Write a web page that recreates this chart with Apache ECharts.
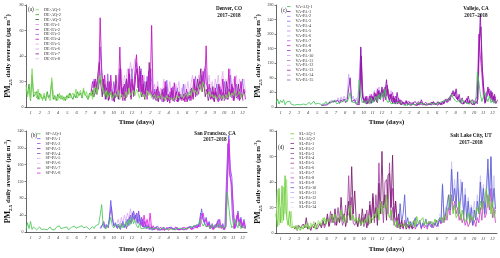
<!DOCTYPE html>
<html><head><meta charset="utf-8">
<script src="https://cdn.jsdelivr.net/npm/echarts@6/dist/echarts.min.js"></script>
<style>html,body{margin:0;padding:0;background:#fff}#c{width:500px;height:258px}</style>
</head><body><div id="c"></div><script>
const STEP = 5; // days between samples
const monthLabels = ['1','2','3','4','5','6','7','8','9','10','11','12','1','2','3','4','5','6','7','8','9','10','11','12'];
const yTicksA = {max: 80, interval: 20};
const yTicksC = {max: 280, interval: 40};
const yTicksB = {max: 240, interval: 40};
const yTicksD = {max: 80, interval: 20};

// ---- Panel (a) Denver ----
const namesA = ['DE-AQ-1','DE-AQ-2','DE-AQ-3','DE-PA-1','DE-PA-2','DE-PA-3','DE-PA-4','DE-PA-5','DE-PA-6','DE-PA-7','DE-PA-8'];
const aqA1 = [17,8,14,6,30,10, 12,7,14,6,10,5, 11,6,9,7,5,23, 10,6,8,5,11,6, 9,5,8,6,10,7, 6,11,8,14,7,10, 13,8,15,9,12,6, 8,12,6,14,16,10, 22,25,18,12,9,13, 7,10,12,6,9,11, 8,13,6,10,9,7, 12,8,15,9,10,13, 9,14,11,7,12,8, 10,6,13,9,11,7, 8,10,6,9,7,10, 6,8,5,9,7,6, 7,5,8,6,9,7, 8,10,7,9,11,8, 12,9,15,11,13,10, 14,18,12,20,16,11, 9,12,8,10,7,9, 6,8,10,7,9,6, 10,7,12,8,11,9, 13,8,10,12,7,11,9,10];
const aqA2 = [14,10,18,5,25,8,10,12,6,11,8,6,9,5,12,7,10,20,6,9,5,10,7,9,6,8,5,9,7,11,8,6,10,7,12,9,11,7,13,10,8,6,11,9,13,8,15,12,18,22,20,14,10,8,12,9,11,7,10,8];
const paA4 = [12,20,15,22,10,18, 70,30,15,25,8,20, 6,25,10,5,18,8, 12,47,10,5,18,7, 14,30,8,22,12,28, 41,15,32,10,25,8, 15,6,28,10,64,8, 12,5,16,8,6,14, 4,20,6,10,3,15, 5,19,6,4,12,7, 5,10,4,14,6,9, 5,12,22,8,15,10, 20,12,28,15,48,10, 18,6,12,5,15,8, 4,16,7,22,5,12, 6,30,8,18,5,24, 7,12,5,20,8,14,6];
const paA3 = [15,22,12,20,14,47,25,10,18,6,26,9,14,5,20,7,12,6,30,8,15,6,20,9,25,12,30,8,20,35,22,12,30,9,20,8,24,12,30,20,6,14,8,5,12,9,4,15,7,21,5,12,6,16,4,9,15,5,10,7,18,6,9,12,5,14,8,16,24,9,18,14,25,16,30,20,14,9,15,6,12,8,18,10,5,14,9,20,6,16,12,25,7,15,9,18,6,14,8,22,10,12];
const paA7 = [14,8,20,10,25,35,18,8,22,6,15,5,20,8,12,4,25,10,6,30,8,16,5,22,10,26,6,18,9,24,30,12,28,8,18,6,20,10,35,14,8,10,6,14,4,10,7,12,5,16,4,9,6,13,5,8,12,4,10,6,8,5,11,4,9,7,15,6,18,10,22,14,30,12,20,8,14,5,10,7,16,4,12,6,18,8,5,12,7,20,6,14,10,16,5,12,8,18,6,10,5];
const paA8 = [15,25,20,30,12,25,18,30,22,35,28,30,38,30,25,20,30,15,25,12,20,10,18,30,12,18,10,20,8,15,10,22,8,18,12,20,10,15,8,18,12,20,8,15,10,18,12,20,10,18,25,15,20,12,25,18,30,22,32,25,18,25,12,20,10,22,15,25,10,20,28,12,22,15,25,30,15,22,18,25,12,22,15,20,22,12];
const colorsA = ['#7ed957','#33a02c','#1b5e20','#e08ee0','#b04ad0','#9a5cf0','#c010c0','#f0a0e8','#c8a0f8','#8e1a8e','#e6b0f0'];
const seriesA = [
  {name:'DE-PA-8', start:300, vals:paA8},
  {name:'DE-PA-3', start:220, vals:paA3},
  {name:'DE-PA-7', start:217, vals:paA7},
  {name:'DE-PA-4', start:215, vals:paA4},
  {name:'DE-AQ-2', start:0, vals:aqA2},
  {name:'DE-AQ-1', start:0, vals:aqA1}
];

// ---- Panel (c) Vallejo ----
const namesC = ['VA-AQ-1','VA-PA-1','VA-PA-2','VA-PA-3','VA-PA-4','VA-PA-5','VA-PA-6','VA-PA-7','VA-PA-8','VA-PA-9','VA-PA-10','VA-PA-11','VA-PA-12','VA-PA-13','VA-PA-14','VA-PA-15'];
const aqC1 = [10,22,8,18,12,20, 6,14,9,16,8,12, 5,10,7,12,6,9, 8,11,6,9,13,7, 9,16,8,12,10,14, 7,12,9,15,8,11, 10,16,12,18,9,14, 12,8,15,10,20,14, 25,40,14,10,12,8, 10,75,30,12,18,9, 14,20,8,25,12,18, 30,15,35,20,40,25, 50,20,12,18,9,14, 10,7,12,8,14,9, 6,9,5,8,7,10, 8,12,6,9,11,7, 9,13,8,11,7,10, 10,14,8,12,9,11, 12,9,15,10,18,14, 20,28,35,25,30,15, 12,18,10,22,14,9, 11,16,8,20,12,15, 10,95,70,35,15,20, 40,25,15,30,12,20,10,18];
const paC1 = [4,8,5,10,6,12,8,14,9,15,11,18,10,20,14,22,12,18,50,80,15,10,20,8,12,6,165,40,12,25,8,18,30,10,28,15,35,12,45,20,55,25,40,75,30,15,35,10,25,8,40,12,20,6,14,8,18,5,12,7,10,5,15,8,12,6,20,9,14,5,10,7,12,6,15,8,11,5,13,7,16,9,20,12,25,18,35,45,30,50,20,35,12,25,8,18,10,30,12,8,20,6,15,9,150,255,120,60,10,25,55,30,45,15,30,10];
const paC8 = [8,20,120,30,20,12,30,10,22,35,15,40,20,50,25,35,45,15,55,30,50,20,25,40,12,30,10,25,8,18,10,5,12,8,15,5,10,8,12,5,15,9,11,6,10,13,6,11,8,14,7,12,9,15,8,12,10,18,14,22,15,30,25,40,35,25,30,15,20,10,15,12,25,8,18,12,6,14,9,30,200,140,90,30,15,40,35,50,20,40,12,28];
const paC13 = [10,30,140,25,15,28,10,20,12,30,18,38,14,45,22,40,30,50,20,60,25,35,15,30,10,22,8,15,6,12,9,5,14,7,10,5,12,6,9,4,11,8,12,6,10,7,7,10,5,12,8,9,6,13,7,11,8,16,12,20,18,28,38,30,42,22,28,14,18,8,14,10,22,9,15,7,12,9,6,20,180,220,100,40,12,30,45,25,40,18,35,10,20];
const paC6 = [6,10,7,12,9,15,10,18,12,20,14,25,15,28,18,30,20,28,90,60,20,30,12,25,10,15,160,50,20,30,15,25,35,20,30,45,25,40,55,30,50,35,45,60,40,30,45,20,30,15,25];
const colorsC = ['#3fc85a','#8a10b0','#b070f0','#8a6ae8','#a0a0f0','#c080f0','#cfa8fa','#b060e0','#c42ac4','#9932cc','#c89cf0','#cc66cc','#e0a0f0','#a020a0','#d070d0','#9050c0'];
const seriesC = [
  {name:'VA-PA-6', start:150, vals:paC6},
  {name:'VA-PA-8', start:270, vals:paC8},
  {name:'VA-PA-13', start:272, vals:paC13},
  {name:'VA-PA-1', start:150, vals:paC1},
  {name:'VA-AQ-1', start:0, vals:aqC1}
];

// ---- Panel (b) San Francisco ----
const namesB = ['SF-AQ-1','SF-PA-1','SF-PA-2','SF-PA-3','SF-PA-4','SF-PA-5','SF-PA-6','SF-PA-7','SF-PA-8'];
const aqB1 = [5,22,8,25,6,12, 10,5,8,12,6,9, 7,10,5,8,12,6, 9,5,11,7,15,8, 6,10,8,12,5,9, 11,7,14,9,6,12, 8,15,10,7,12,9, 6,10,13,8,15,11, 18,40,65,12,10,8, 12,20,35,15,10,15, 12,18,8,20,10,15, 25,12,30,18,35,20, 28,15,10,20,8,12, 9,6,11,8,12,7, 6,9,5,8,10,7, 8,11,6,9,7,10, 7,10,6,9,8,11, 9,12,7,10,8,11, 10,8,13,9,15,11, 18,30,22,14,20,12, 10,15,8,18,12,9, 12,20,9,15,10,14, 12,95,60,25,10,15, 30,18,10,25,8,14,9,12];
const paB1 = [10,15,20,10,18,12,30,75,35,15,22,10,18,8,12,25,10,20,30,15,40,25,50,30,45,20,40,15,30,10,20,8,15,6,12,5,10,7,14,5,9,6,12,5,8,10,6,12,7,9,5,11,6,10,8,12,6,9,11,7,13,8,15,10,18,12,25,55,30,20,35,15,25,10,20,8,18,12,30,15,10,20,8,15,140,230,150,130,40,10,15,50,20,35,12,30,10];
const paB4 = [8,12,25,8,15,10,40,60,25,12,18,8,15,6,20,12,18,8,25,35,20,45,28,40,22,50,18,35,12,25,8,15,6,12,4,9,6,11,5,8,5,10,4,7,9,5,10,6,8,4,10,5,9,7,11,5,8,10,6,12,7,13,9,16,10,20,45,38,25,28,12,22,8,16,6,15,10,25,12,8,16,6,12,120,210,140,120,35,8,12,40,25,30,10,22,8];
const paB8 = [25,12,40,15,30,10,45,8,15,5,10,4,8,12,5,9,6,11,4,8,10,5,9,12,6,8,5,10,7,11,5,9,12,6,10,8,14,9,18,12,35,45,25,30,12,20,8,15,6,12,20,10,30,8,15,5,12,100,220,130,110,55,8,12,45,15,30,10,25,8];
const paB5 = [20,30,15,35,20,40,25,45,30,55,35,50,40,35,45,25,30,20,25,12,18,10,20,8,12];
const colorsB = ['#4cc85a','#6a5af0','#9a4cf0','#7a30c0','#9040d0','#dcaaf8','#f0c0f0','#b040c0','#ea1cea'];
const seriesB = [
  {name:'SF-PA-5', start:300, vals:paB5},
  {name:'SF-PA-4', start:247, vals:paB4},
  {name:'SF-PA-1', start:245, vals:paB1},
  {name:'SF-PA-8', start:380, vals:paB8},
  {name:'SF-AQ-1', start:0, vals:aqB1}
];

// ---- Panel (d) Salt Lake City ----
const namesD = ['SL-AQ-1','SL-AQ-2','SL-PA-1','SL-PA-2','SL-PA-3','SL-PA-4','SL-PA-5','SL-PA-6','SL-PA-7','SL-PA-8','SL-PA-9','SL-PA-10','SL-PA-11','SL-PA-12','SL-PA-13','SL-PA-14'];
const aqD1 = [15,5,35,8,37,10, 45,12,6,17,4,3, 5,3,6,4,2,5, 3,6,4,8,3,5, 4,7,3,6,5,8, 6,10,12,7,11,9, 10,14,8,15,11,9, 12,18,9,14,8,12, 15,22,10,14,9,12, 8,12,6,10,7,11, 9,14,7,12,10,15, 12,20,10,25,15,22, 20,30,15,12,18,10, 8,5,10,4,7,6, 5,8,4,6,9,5, 6,10,5,13,7,9, 8,12,6,10,7,9, 7,9,6,11,8,10, 9,12,8,14,10,18, 20,30,25,15,22,12, 14,25,10,18,12,9, 11,16,8,14,10,13, 12,20,15,25,18,22, 28,35,20,30,15,25,12,18];
const aqD2 = [12,34,6,20,8,36,15,42,10,5,17,4,3,6,2,5,4,3,5,7,4,6,3,8,5,9,6,4,10,7,8,12,9,11];
const paD2 = [3,5,2,6,4,3,7,4,12,3,5,2,6,4,8,3,5,7,4,10,6,8,15,5,10,15,8,19,6,12,8,28,10,15,5,12,25,10,52,15,33,10,5,12,6,19,8,15,4,10,22,8,31,12,20,6,39,15,64,20,30,10,45,47,20,61,12,25,8,15,5,10,4,8,3,6,4,7,3,5];
const paD4 = [5,9,4,7,12,6,17,8,12,6,10,20,9,13,6,10,22,8,45,12,28,8,6,10,5,15,6,12,5,8,18,6,25,10,28,8,30,12,55,18,25,8,40,42,15,55,10,20,6,12,4,8,3,6,4];
const paD10 = [10,5,23,8,15,30,6,12,5,9,4,8,12,5,7,10,4,8,6,11,5,7,9,4,8,6,10,5,12,8,38,10,15,22,30,18,50,25,35,20,48,15,28,40,12,30,10,25,8,20,6,18,10,25,15,40,20,35,15,30,58,25,60,20,35,19];
const paD12 = [15,10,39,12,20,15,28,20,56,30,42,25,35,20,42,25,18,35,12,28,10,22,15,25,12,30,18,45,25,38,20,40,50,30,59,25,45,15];
const paD8 = [20,35,10,25,5,12,4,8,3,10,5,7,3,6,4,9,3,6,5,8,3,7,4,6,3,9,5,7,4,8,5,6,10,7,12,8,15,10,20,14,30,18,25,15,20,10,15,8,12,6,10,5,8,12,6,10,5,12,8,20,10,25,12,15,30,18,35,12,20,8];
const colorsD = ['#66cc33','#a6e07e','#8a2a8a','#7a1a6e','#a04ca0','#a848a8','#9a3a9a','#d080d0','#e0a0e0','#cc44cc','#8a6ae0','#5c5cd6','#b0b0f0','#c8c4f8','#e0c0f8','#ece0ff'];
const seriesD = [
  {name:'SL-PA-12', start:540, vals:paD12},
  {name:'SL-PA-8', start:380, vals:paD8},
  {name:'SL-PA-10', start:400, vals:paD10},
  {name:'SL-PA-4', start:150, vals:paD4},
  {name:'SL-PA-2', start:60, vals:paD2},
  {name:'SL-AQ-2', start:0, vals:aqD2},
  {name:'SL-AQ-1', start:0, vals:aqD1}
];

const SERIF = 'Liberation Serif, Times New Roman, serif';
const panels = [
  {grid:{left:26,top:5,width:221,height:102}, y:yTicksA, names:namesA, colors:colorsA, series:seriesA,
   place:'Denver, CO', placeX:229, placeY:5.5, tag:'(a)', tagX:28, tagY:7.5, legLeft:35.5, legTop:7.8, xGap:11.5},
  {grid:{left:276,top:5,width:221,height:102}, y:yTicksC, names:namesC, colors:colorsC, series:seriesC,
   place:'Vallejo, CA', placeX:476, placeY:5.5, tag:'(c)', tagX:281, tagY:8, legLeft:287, legTop:4.5, xGap:11.5},
  {grid:{left:26,top:131,width:221,height:101}, y:yTicksB, names:namesB, colors:colorsB, series:seriesB,
   place:'San Francisco, CA', placeX:215, placeY:130, tag:'(b)', tagX:31, tagY:133, legLeft:37, legTop:131.8, xGap:13.5},
  {grid:{left:276,top:131,width:221,height:102}, y:yTicksD, names:namesD, colors:colorsD, series:seriesD,
   place:'Salt Lake City, UT', placeX:471, placeY:132.5, tag:'(d)', tagX:278, tagY:145, legLeft:290.5, legTop:131.8, xGap:13}
];

const opt = {animation:false, backgroundColor:'#fff', textStyle:{fontFamily:SERIF},
  grid:[], xAxis:[], yAxis:[], series:[], legend:[], title:[]};

panels.forEach((p, pi) => {
  opt.grid.push(p.grid);
  opt.xAxis.push({type:'value', gridIndex:pi, min:0, max:730, show:false});
  opt.xAxis.push({type:'category', gridIndex:pi, data:monthLabels, boundaryGap:true, position:'bottom',
    axisLine:{lineStyle:{color:'#000', width:0.6}}, axisTick:{show:false},
    axisLabel:{fontSize:4.6, fontStyle:'italic', color:'#444', margin:3, fontFamily:SERIF, interval:0},
    name:'Time (days)', nameLocation:'middle', nameGap:p.xGap,
    nameTextStyle:{fontSize:7, fontWeight:'bold', color:'#111', fontFamily:SERIF}});
  opt.yAxis.push({type:'value', gridIndex:pi, min:0, max:p.y.max, interval:p.y.interval,
    axisLine:{show:true, lineStyle:{color:'#000', width:0.6}},
    axisTick:{show:true, length:1.5, lineStyle:{width:0.5}},
    splitLine:{show:false},
    axisLabel:{fontSize:4, color:'#333', margin:2.5, fontFamily:SERIF},
    name:'{b|PM}{s|2.5}{m| daily average (μg m}{p|-3}{m|)}', nameLocation:'middle', nameRotate:90, nameGap:13,
    nameTextStyle:{color:'#111', fontFamily:SERIF, rich:{
      b:{fontSize:8, fontWeight:'bold', fontFamily:SERIF, color:'#111', lineHeight:10},
      s:{fontSize:5, fontWeight:'bold', fontFamily:SERIF, color:'#111', verticalAlign:'bottom', lineHeight:10},
      m:{fontSize:6.8, fontWeight:'bold', fontFamily:SERIF, color:'#111', lineHeight:10},
      p:{fontSize:4.5, fontWeight:'bold', fontFamily:SERIF, color:'#111', verticalAlign:'top', lineHeight:10}}}});
  const xi = pi*2;
  const drawn = p.series.map(s=>s.name);
  p.names.forEach((n, k) => {
    if (!drawn.includes(n)) opt.series.push({type:'line', name:n, xAxisIndex:xi, yAxisIndex:pi, data:[], color:p.colors[k]});
  });
  p.series.forEach(s => {
    const k = p.names.indexOf(s.name);
    opt.series.push({type:'line', name:s.name, xAxisIndex:xi, yAxisIndex:pi, color:p.colors[k],
      showSymbol:false, symbol:'none', lineStyle:{width:0.85, color:p.colors[k]},
      data:s.vals.map((v,i)=>[s.start+i*STEP, v])});
  });
  opt.legend.push({orient:'vertical', left:p.legLeft, top:p.legTop, data:p.names, icon:'rect',
    itemWidth:3.5, itemHeight:0.8, itemGap:0.9, padding:0, selectedMode:false,
    textStyle:{fontSize:4.3, color:'#333', fontFamily:SERIF, padding:0}});
  opt.title.push({text:p.place+'\n2017–2018', left:p.placeX, top:p.placeY, textAlign:'center', padding:0,
    textStyle:{fontSize:5.2, fontWeight:'bold', color:'#111', fontFamily:SERIF, lineHeight:6.5}});
  opt.title.push({text:p.tag, left:p.tagX, top:p.tagY, padding:0,
    textStyle:{fontSize:5.2, fontWeight:'normal', color:'#111', fontFamily:SERIF}});
});

const chart = echarts.init(document.getElementById('c'), null, {renderer:'canvas'});
chart.setOption(opt);
</script></body></html>
